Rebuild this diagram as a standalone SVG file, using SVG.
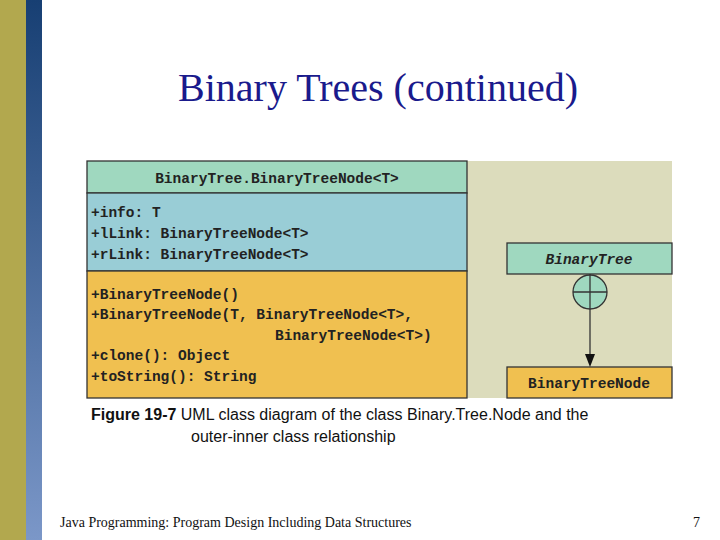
<svg xmlns="http://www.w3.org/2000/svg" width="720" height="540" viewBox="0 0 720 540">
<defs>
<linearGradient id="bl" x1="0" y1="0" x2="0" y2="1"><stop offset="0" stop-color="#173f73"/><stop offset="1" stop-color="#7b97c8"/></linearGradient>
<marker id="ah" markerWidth="10" markerHeight="12" refX="5" refY="12" orient="auto" markerUnits="userSpaceOnUse"><path d="M0,0 L10,0 L5,12 Z" transform="rotate(-90 5 6) translate(0 0)" fill="#111"/></marker>
</defs>
<style>
.m{font-family:"Liberation Mono",monospace;font-size:14.5px;font-weight:bold;fill:#222}
.b{stroke:#333;stroke-width:1.3}
</style>
<rect width="720" height="540" fill="#fff"/>
<rect x="0" y="0" width="26" height="540" fill="#b2a84e"/>
<rect x="26" y="0" width="16" height="540" fill="url(#bl)"/>
<text x="378" y="101" text-anchor="middle" font-family="Liberation Serif,serif" font-size="40" fill="#1a1a8c">Binary Trees (continued)</text>
<rect x="467" y="161" width="205" height="237" fill="#dcdcbc"/>
<g id="node-class">
<rect x="87" y="161" width="380" height="32" fill="#9fd8bf" class="b"/>
<rect x="87" y="193" width="380" height="78" fill="#99cdd6" class="b"/>
<rect x="87" y="271" width="380" height="127" fill="#f0c050" class="b"/>
<text class="m" x="277" y="183" text-anchor="middle">BinaryTree.BinaryTreeNode&lt;T&gt;</text>
<text class="m" x="91" y="217">+info: T</text>
<text class="m" x="91" y="238">+lLink: BinaryTreeNode&lt;T&gt;</text>
<text class="m" x="91" y="259">+rLink: BinaryTreeNode&lt;T&gt;</text>
<text class="m" x="91" y="299">+BinaryTreeNode()</text>
<text class="m" x="91" y="319">+BinaryTreeNode(T, BinaryTreeNode&lt;T&gt;,</text>
<text class="m" x="275" y="340">BinaryTreeNode&lt;T&gt;)</text>
<text class="m" x="91" y="360">+clone(): Object</text>
<text class="m" x="91" y="381">+toString(): String</text>
</g>
<g id="node-binarytree">
<rect x="507" y="243" width="165" height="31" fill="#9fd8bf" class="b"/>
<text class="m" x="589" y="264" text-anchor="middle" font-style="italic">BinaryTree</text>
</g>
<g id="node-binarytreenode">
<rect x="507" y="367" width="165" height="31" fill="#f0c050" class="b"/>
<text class="m" x="589" y="388" text-anchor="middle">BinaryTreeNode</text>
</g>
<g id="connectors">
<circle cx="590" cy="292" r="17" fill="#9fd8bf" class="b"/>
<line x1="573" y1="292" x2="607" y2="292" class="b"/>
<line x1="590" y1="274" x2="590" y2="356" class="b"/>
<path d="M585,354 L595,354 L590,367 Z" fill="#111"/>
</g>
<text x="91" y="420" font-family="Liberation Sans,sans-serif" font-size="16" fill="#111"><tspan font-weight="bold">Figure 19-7</tspan> UML class diagram of the class Binary.Tree.Node and the</text>
<text x="191" y="442" font-family="Liberation Sans,sans-serif" font-size="16" fill="#111">outer-inner class relationship</text>
<text x="60" y="527" font-family="Liberation Serif,serif" font-size="14" fill="#111">Java Programming: Program Design Including Data Structures</text>
<text x="700" y="527" text-anchor="end" font-family="Liberation Serif,serif" font-size="14" fill="#111">7</text>
</svg>
